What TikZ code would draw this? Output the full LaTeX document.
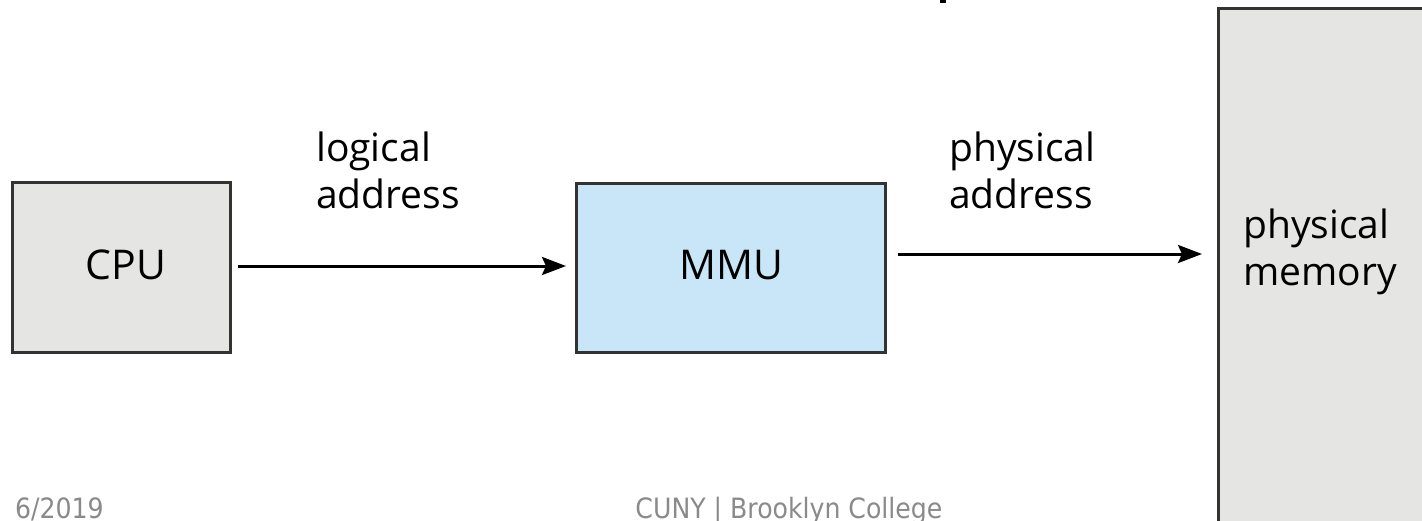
\documentclass[tikz,border=0pt]{standalone}
\usepackage{fontspec}
\setmainfont{Open Sans}
\newfontfamily\footfont{DejaVu Sans Condensed}
\usetikzlibrary{arrows.meta}
\definecolor{boxgray}{HTML}{E5E5E4}
\definecolor{mmublue}{HTML}{C8E6F8}
\definecolor{edgegray}{HTML}{333333}
\definecolor{footgray}{HTML}{8A8A8A}
\begin{document}
\begin{tikzpicture}[x=1pt,y=-1pt,
  unit/.style={draw=edgegray,line width=3pt,fill=#1,inner sep=0pt},
  lbl/.style={font=\fontsize{39}{47}\selectfont,align=left,inner sep=0pt},
  boxtext/.style={font=\fontsize{41}{48}\selectfont,inner sep=0pt},
  flow/.style={-{Stealth[length=24pt,width=18pt,inset=4pt]},line width=3pt},
  foot/.style={font=\footfont\fontsize{28}{32}\selectfont,text=footgray,inner sep=0pt}]
  \useasboundingbox (0,0) rectangle (1422,520);
  \clip (0,0) rectangle (1422,520);

  % blocks
  \path[unit=boxgray] (12,182) rectangle (230,352);
  \node[boxtext] (cpu) at (126,265) {CPU};
  \path[unit=mmublue] (576,183) rectangle (885,352);
  \node[boxtext] (mmu) at (731,265) {MMU};
  \path[unit=boxgray] (1218,8) rectangle (1440,540);
  \node[lbl,anchor=west] (mem) at (1243,252) {physical\\memory};

  % anchor points of the connectors
  \coordinate (a1) at (238,266);
  \coordinate (b1) at (566,266);
  \coordinate (a2) at (898,254);
  \coordinate (b2) at (1202,254);
  \draw[flow] (a1) -- (b1);
  \draw[flow] (a2) -- (b2);

  \node[lbl,anchor=west] (la) at (316,170) {logical\\address};
  \node[lbl,anchor=west] (pa) at (949,170) {physical\\address};

  % edge of the heading above
  \fill (940,0) rectangle (946,3);

  % footer
  \node[foot,anchor=base east] (date) at (104,518) {6/2019};
  \node[foot,anchor=base] (inst) at (789,518) {CUNY | Brooklyn College};
\end{tikzpicture}
\end{document}
